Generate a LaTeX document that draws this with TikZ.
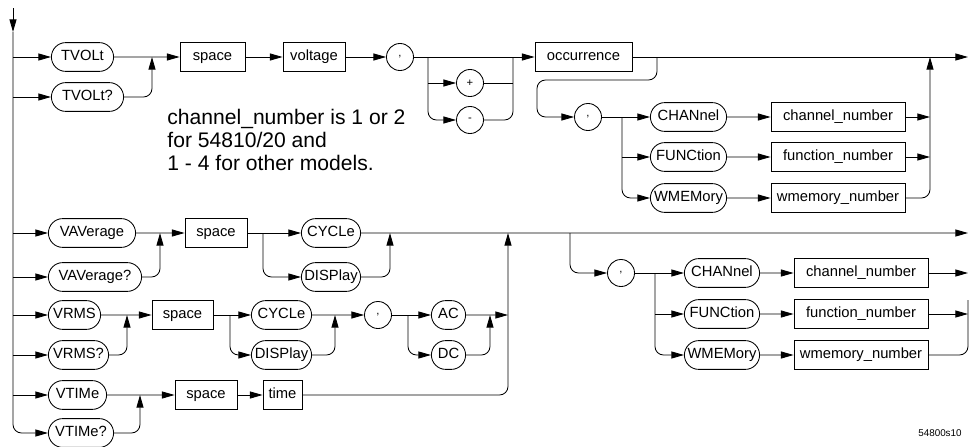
\documentclass[tikz,border=0pt]{standalone}
\usepackage{fontspec}
\setmainfont{Liberation Sans}
\usetikzlibrary{shapes.misc, arrows.meta, positioning}

\begin{document}
\begin{tikzpicture}[x=0.025cm, y=-0.025cm, line width=0.6pt,
		every node/.style={font=\fontsize{10.5}{12}\selectfont},
		kw/.style={draw, rounded rectangle, minimum height=0.72cm, minimum width=#1*0.025cm, inner sep=1pt, text height=7.5pt, text depth=2pt},
		param/.style={draw, rectangle, minimum height=0.72cm, minimum width=#1*0.025cm, inner sep=1pt, text height=7.5pt, text depth=2pt},
		sym/.style={draw, circle, minimum size=0.675cm, inner sep=0pt, font=\fontsize{8}{9}\selectfont},
		arr/.style={-{Triangle[length=9pt, width=5pt]}},
		rc/.style={rounded corners=6pt}]
		\useasboundingbox (0,0) rectangle (969,447);
		% TVOLt branch
		\node[kw=65] (tvolt) at (82.5,57) {TVOLt};
		\node[kw=75] (tvoltq) at (87.5,97) {TVOLt?};
		\node[param=65] (spaceA) at (212.5,57) {space};
		\node[param=62] (voltage) at (314,57) {voltage};
		\node[sym] (commaA) at (400,57) {,};
		\node[sym] (plus) at (470,83) {+};
		\node[sym] (minus) at (470,120) {-};
		\node[param=97] (occur) at (583.5,57) {occurrence};
		\node[sym] (commaB) at (588,117) {,};
		\node[kw=79] (chanA) at (688.5,117) {CHANnel};
		\node[kw=79] (funcA) at (688.5,157) {FUNCtion};
		\node[kw=79] (wmemA) at (688.5,198) {WMEMory};
		\node[param=134] (chnumA) at (838,117) {channel\_number};
		\node[param=134] (fnnumA) at (838,157) {function\_number};
		\node[param=134] (wmnumA) at (838,198) {wmemory\_number};
		% VAVerage branch
		\node[kw=90] (vavg) at (92,233) {VAVerage};
		\node[kw=96] (vavgq) at (95,277) {VAVerage?};
		\node[param=62] (spaceB) at (216,233) {space};
		\node[kw=62] (cycleB) at (331,233) {CYCLe};
		\node[kw=62] (displayB) at (331,277) {DISPlay};
		\node[sym] (commaC) at (621,273) {,};
		\node[kw=78] (chanB) at (722,273) {CHANnel};
		\node[kw=78] (funcB) at (722,314) {FUNCtion};
		\node[kw=78] (wmemB) at (722,355) {WMEMory};
		\node[param=134] (chnumB) at (861,273) {channel\_number};
		\node[param=134] (fnnumB) at (861,314) {function\_number};
		\node[param=134] (wmnumB) at (861,355) {wmemory\_number};
		% VRMS branch
		\node[kw=55] (vrms) at (74.5,315) {VRMS};
		\node[kw=63] (vrmsq) at (78.5,355) {VRMS?};
		\node[param=61] (spaceC) at (182.5,315) {space};
		\node[kw=63] (cycleC) at (281.5,315) {CYCLe};
		\node[kw=63] (displayC) at (281.5,355) {DISPlay};
		\node[sym] (commaD) at (378,315) {,};
		\node[kw=37] (ac) at (448.5,315) {AC};
		\node[kw=37] (dc) at (448.5,355) {DC};
		% VTIMe branch
		\node[kw=61] (vtime) at (77.5,395) {VTIMe};
		\node[kw=68] (vtimeq) at (81,433) {VTIMe?};
		\node[param=62] (spaceD) at (206,395) {space};
		\node[param=39] (time) at (282.5,395) {time};
		% notes
		\node[anchor=north west, align=left, inner sep=0pt, font=\fontsize{15}{16.3}\selectfont] (note) at (167,109)
			{channel\_number is 1 or 2\\for 54810/20 and\\1 - 4 for other models.};
		\node[font=\fontsize{7}{8}\selectfont] (figid) at (940,433) {54800s10};
		% junctions
		\coordinate (top) at (13,8);
		\coordinate (spine) at (13,32);
		\coordinate (mA) at (152,57);
		\coordinate (jA) at (428,57);
		\coordinate (jB) at (513,57);
		\coordinate (lA) at (657,57);
		\coordinate (loopR) at (657,80);
		\coordinate (loopL) at (537,80);
		\coordinate (jC) at (622,117);
		\coordinate (mC) at (930,57);
		\coordinate (endA) at (968,57);
		\coordinate (mD) at (160,233);
		\coordinate (jD) at (263,233);
		\coordinate (mE) at (390,233);
		\coordinate (mF) at (508,233);
		\coordinate (jE) at (570,233);
		\coordinate (jF) at (655,273);
		\coordinate (endB) at (968,233);
		\coordinate (mG) at (968,300);
		\coordinate (mH) at (127,315);
		\coordinate (jG) at (230,315);
		\coordinate (mI) at (335,315);
		\coordinate (jH) at (408,315);
		\coordinate (mJ) at (490,315);
		\coordinate (mK) at (140,395);
		% left spine
		\draw[arr] (top) -- (spine);
		\draw[arr, rc] (spine) |- (vtimeq.west);
		\foreach \n in {tvolt, tvoltq, vavg, vavgq, vrms, vrmsq, vtime}
			\draw[arr] (spine |- \n.west) -- (\n.west);
		% TVOLt paths
		\draw[arr] (tvolt) -- (spaceA);
		\draw[arr, rc] (tvoltq) -| (mA);
		\draw[arr] (spaceA) -- (voltage);
		\draw[arr] (voltage) -- (commaA);
		\draw[arr] (commaA) -- (occur);
		\draw[arr] (jA |- plus) -- (plus);
		\draw[arr, rc] (jA) |- (minus);
		\draw (plus) -- (jB |- plus);
		\draw[rc] (minus) -| (jB);
		\draw[arr] (occur) -- (endA);
		\draw[arr, rc] (lA) -- (loopR) -- (loopL) |- (commaB);
		\draw (commaB) -- (jC);
		\draw[arr] (jC) -- (chanA);
		\draw[arr] (jC |- funcA) -- (funcA);
		\draw[arr, rc] (jC) |- (wmemA);
		\draw[arr] (chanA) -- (chnumA);
		\draw[arr] (funcA) -- (fnnumA);
		\draw[arr] (wmemA) -- (wmnumA);
		\draw[arr] (chnumA) -- (mC |- chnumA);
		\draw[arr] (fnnumA) -- (mC |- fnnumA);
		\draw[arr, rc] (wmnumA) -| (mC);
		% VAVerage paths
		\draw[arr] (vavg) -- (spaceB);
		\draw[arr, rc] (vavgq) -| (mD);
		\draw[arr] (spaceB) -- (cycleB);
		\draw[arr, rc] (jD) |- (displayB);
		\draw[arr, rc] (displayB) -| (mE);
		\draw[arr] (cycleB) -- (endB);
		\draw[arr, rc] (jE) |- (commaC);
		\draw (commaC) -- (jF);
		\draw[arr] (jF) -- (chanB);
		\draw[arr] (jF |- funcB) -- (funcB);
		\draw[arr, rc] (jF) |- (wmemB);
		\draw[arr] (chanB) -- (chnumB);
		\draw[arr] (funcB) -- (fnnumB);
		\draw[arr] (wmemB) -- (wmnumB);
		\draw[arr] (chnumB) -- (endB |- chnumB);
		\draw[arr] (fnnumB) -- (endB |- fnnumB);
		\draw[rc] (wmnumB) -| (mG);
		% VRMS paths
		\draw[arr] (vrms) -- (spaceC);
		\draw[arr, rc] (vrmsq) -| (mH);
		\draw[arr] (spaceC) -- (cycleC);
		\draw[arr, rc] (jG) |- (displayC);
		\draw[arr] (cycleC) -- (commaD);
		\draw[arr, rc] (displayC) -| (mI);
		\draw[arr] (commaD) -- (ac);
		\draw[arr, rc] (jH) |- (dc);
		\draw[arr, rc] (dc) -| (mJ);
		\draw[arr] (ac) -- (mF |- ac);
		% VTIMe paths
		\draw[arr] (vtime) -- (spaceD);
		\draw[arr, rc] (vtimeq) -| (mK);
		\draw[arr] (spaceD) -- (time);
		\draw[arr, rc] (time) -| (mF);
	\end{tikzpicture}
\end{document}
